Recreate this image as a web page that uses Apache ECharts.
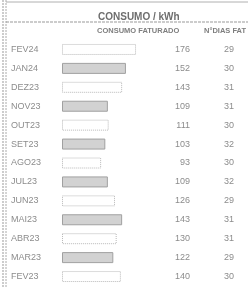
<!DOCTYPE html>
<html>
<head>
<meta charset="utf-8">
<script src="https://cdn.jsdelivr.net/npm/echarts@6/dist/echarts.min.js"></script>
<style>
  html, body { margin: 0; padding: 0; background: #fff; }
  #chart { width: 248px; height: 288px; }
</style>
</head>
<body>
<div id="chart"></div>
<script>
// meses (de cima para baixo)
var meses = ['FEV24', 'JAN24', 'DEZ23', 'NOV23', 'OUT23', 'SET23', 'AGO23', 'JUL23', 'JUN23', 'MAI23', 'ABR23', 'MAR23', 'FEV23'];
// consumo faturado kWh
var consumo = [176, 152, 143, 109, 111, 103, 93, 109, 126, 143, 130, 122, 140];
// nº dias faturados
var dias = [29, 30, 31, 31, 30, 32, 30, 32, 29, 31, 31, 29, 30];

var myChart = echarts.init(document.getElementById('chart'), null, { renderer: 'canvas' });

var txtCor = '#8c8c8c';
var fonte = 'Liberation Sans, Arial, sans-serif';

// barras alternadas: branca pontilhada / cinza
var barData = consumo.map(function (v, i) {
  if (i % 2 === 0) {
    return { value: v, itemStyle: { color: '#fff', borderColor: '#b8b8b8', borderWidth: 1, borderType: 'dotted' } };
  }
  return { value: v, itemStyle: { color: '#d2d2d2', borderColor: '#a0a0a0', borderWidth: 1 } };
});

var option = {
  backgroundColor: '#fff',
  animation: false,
  title: {
    text: 'CONSUMO / kWh',
    left: 93,
    top: 7,
    textStyle: { fontFamily: fonte, fontSize: 10, fontWeight: 'bold', color: '#6e6e6e' }
  },
  graphic: [
    // borda esquerda dupla
    { type: 'line', shape: { x1: 3, y1: 0, x2: 3, y2: 288 }, style: { stroke: '#999', lineWidth: 1, lineDash: [2, 1] } },
    { type: 'line', shape: { x1: 6, y1: 0, x2: 6, y2: 288 }, style: { stroke: '#aaa', lineWidth: 1, lineDash: [2, 1] } },
    // linha superior
    { type: 'line', shape: { x1: 6, y1: 2, x2: 248, y2: 2 }, style: { stroke: '#b0b0b0', lineWidth: 1 } },
    // separador
    { type: 'line', shape: { x1: 6, y1: 22, x2: 248, y2: 22 }, style: { stroke: '#999', lineWidth: 1, lineDash: [3, 1] } },
    { type: 'text', left: 97, top: 27, style: { text: 'CONSUMO FATURADO', font: 'bold 7.5px ' + fonte, fill: '#7e7e7e' } },
    { type: 'text', left: 204, top: 27, style: { text: 'N°DIAS FAT', font: 'bold 7.5px ' + fonte, fill: '#7e7e7e' } }
  ],
  grid: {
    left: 62,
    right: 80,
    top: 40,
    bottom: 2
  },
  xAxis: {
    type: 'value',
    min: 0,
    max: 252,
    show: false
  },
  yAxis: [{
    type: 'category',
    inverse: true,
    data: meses,
    axisLine: { show: false },
    axisTick: { show: false },
    axisLabel: {
      color: txtCor,
      fontFamily: fonte,
      fontSize: 9,
      align: 'left',
      margin: 51
    }
  }, {
    type: 'category',
    inverse: true,
    position: 'right',
    data: meses,
    axisLine: { show: false },
    axisTick: { show: false },
    axisLabel: {
      margin: 0,
      formatter: function (val, idx) {
        return '{v|' + consumo[idx] + '}{d|' + dias[idx] + '}';
      },
      rich: {
        v: { width: 22, align: 'right', color: txtCor, fontFamily: fonte, fontSize: 9 },
        d: { width: 44, align: 'right', color: txtCor, fontFamily: fonte, fontSize: 9 }
      }
    }
  }],
  series: [{
    type: 'bar',
    yAxisIndex: 0,
    barWidth: 11,
    data: barData
  }]
};

myChart.setOption(option);
</script>
</body>
</html>
